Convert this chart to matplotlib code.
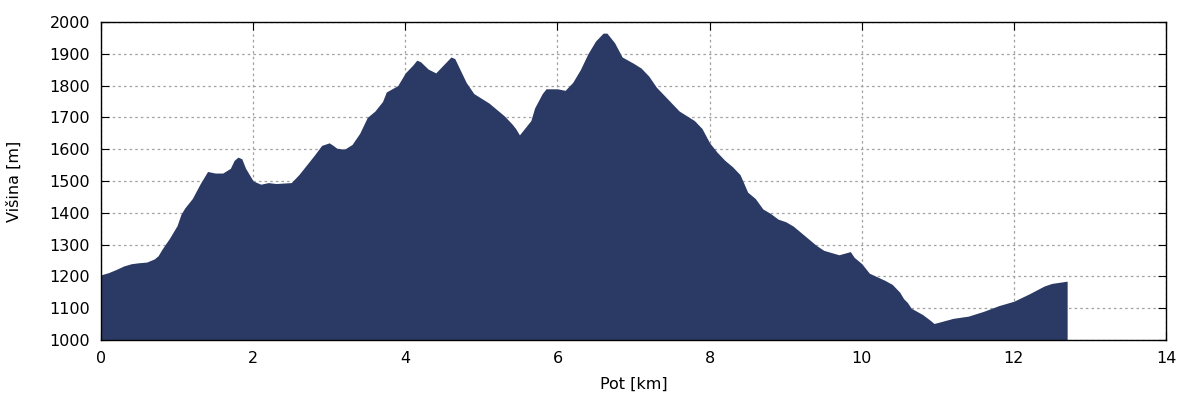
import matplotlib.pyplot as plt

# elevation profile
dist_km = [0, 0.1, 0.2, 0.3, 0.4, 0.5, 0.6, 0.7, 0.75, 0.8, 0.9, 1.0, 1.05, 1.1, 1.2,
           1.3, 1.35, 1.4, 1.5, 1.6, 1.7, 1.75, 1.8, 1.85, 1.9, 2.0, 2.1, 2.2, 2.3,
           2.5, 2.6, 2.7, 2.8, 2.9, 3.0, 3.05, 3.1, 3.2, 3.3, 3.4, 3.5, 3.6, 3.7,
           3.75, 3.9, 4.0, 4.1, 4.15, 4.2, 4.3, 4.4, 4.5, 4.6, 4.65, 4.7, 4.8, 4.9,
           5.0, 5.1, 5.2, 5.3, 5.4, 5.45, 5.5, 5.55, 5.65, 5.7, 5.8, 5.85, 6.0, 6.1,
           6.2, 6.3, 6.4, 6.5, 6.6, 6.65, 6.75, 6.85, 7.0, 7.1, 7.2, 7.3, 7.4, 7.5,
           7.6, 7.7, 7.8, 7.9, 8.0, 8.1, 8.2, 8.3, 8.4, 8.5, 8.6, 8.7, 8.8, 8.9,
           9.0, 9.1, 9.2, 9.3, 9.4, 9.5, 9.6, 9.7, 9.85, 9.9, 10.0, 10.1, 10.3,
           10.4, 10.5, 10.55, 10.6, 10.65, 10.8, 10.9, 10.95, 11.0, 11.2, 11.4,
           11.6, 11.8, 12.0, 12.2, 12.4, 12.5, 12.7]
elev_m = [1205, 1212, 1222, 1233, 1240, 1243, 1245, 1255, 1265, 1285, 1320, 1360, 1395, 1415, 1445,
          1490, 1510, 1530, 1525, 1525, 1540, 1565, 1575, 1570, 1540, 1500, 1490, 1495, 1492,
          1495, 1520, 1550, 1580, 1612, 1620, 1612, 1603, 1600, 1615, 1650, 1700, 1720, 1750,
          1780, 1800, 1840, 1865, 1880, 1875, 1852, 1840, 1865, 1890, 1885, 1860, 1810, 1775,
          1760, 1745, 1725, 1705, 1680, 1665, 1645, 1660, 1690, 1730, 1775, 1790, 1790, 1785,
          1810, 1850, 1900, 1940, 1965, 1965, 1935, 1890, 1870, 1855, 1830, 1795, 1770, 1745,
          1720, 1705, 1690, 1665, 1620, 1590, 1565, 1545, 1520, 1465, 1445, 1412, 1398, 1380,
          1372, 1358, 1338, 1318, 1298, 1282, 1275, 1268, 1278, 1260, 1240, 1210, 1188,
          1175, 1150, 1130, 1118, 1100, 1080, 1062, 1052, 1055, 1068, 1075,
          1090, 1108, 1122, 1145, 1170, 1178, 1185]

fig = plt.figure(figsize=(12, 4), dpi=100)
ax = fig.add_axes([0.0842, 0.15, 0.8875, 0.795])

ax.fill_between(dist_km, 1000, elev_m, color='#2b3a64', linewidth=0, zorder=2)

ax.set_xlim(0, 14)
ax.set_ylim(1000, 2000)
ax.set_xticks(range(0, 15, 2))
ax.set_yticks(range(1000, 2001, 100))
ax.grid(True, color='#a0a0a0', linestyle=(0, (2, 2.5)), linewidth=0.9, zorder=1)
ax.tick_params(direction='in', length=6, top=True, right=True, labelsize=11.5, pad=8)
for sp in ax.spines.values():
    sp.set_linewidth(1.0)
    sp.set_zorder(3)

ax.set_xlabel('Pot [km]', fontsize=11.5, labelpad=8)
ax.set_ylabel('Višina [m]', fontsize=11.5, labelpad=20)

fig.savefig('out.png', dpi=100)
